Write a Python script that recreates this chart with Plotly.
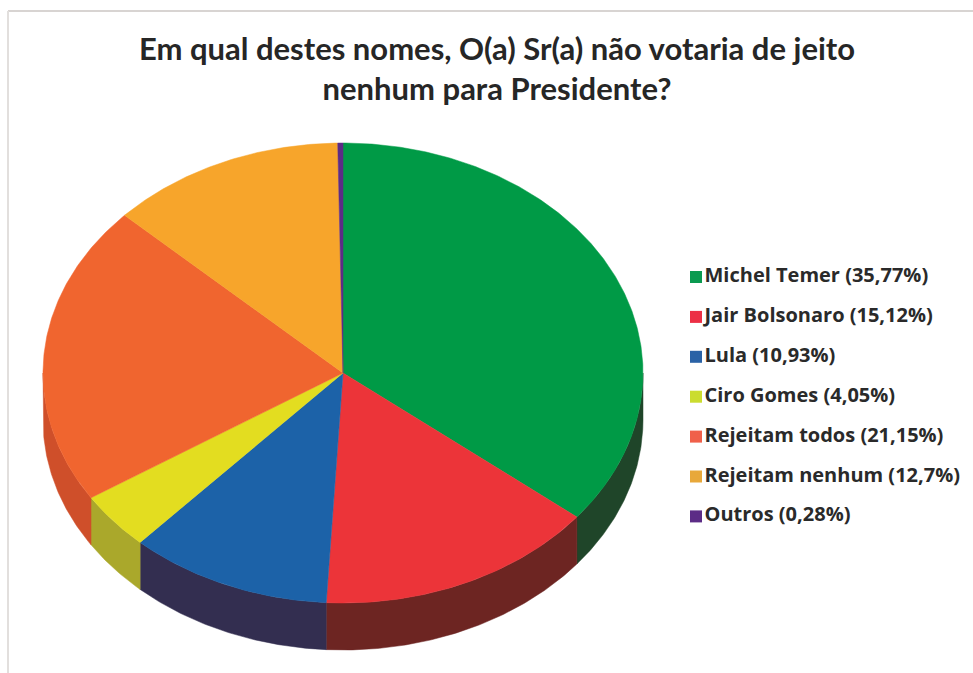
import numpy as np
import plotly.graph_objects as go

# Data
names = ["Michel Temer", "Jair Bolsonaro", "Lula", "Ciro Gomes", "Rejeitam todos", "Rejeitam nenhum", "Outros"]
values = [35.77, 15.12, 10.93, 4.05, 21.15, 12.7, 0.28]
value_labels = ["35,77%", "15,12%", "10,93%", "4,05%", "21,15%", "12,7%", "0,28%"]
top_colors = ["#009a46", "#ec3439", "#1c62a8", "#e3dd20", "#f0652f", "#f7a52b", "#5c2c86"]
side_colors = ["#1f4529", "#6d2522", "#332e50", "#aaa82b", "#cf4f2a", "#c57d22", "#44215f"]
legend_colors = ["#0a9a50", "#ec2f45", "#2a62a6", "#cbdc2f", "#f0604a", "#e8a83a", "#5c2c86"]
title_text = "Em qual destes nomes, O(a) Sr(a) não votaria de jeito<br>nenhum para Presidente?"

# Layout geometry (pixel-like scale of the canvas)
W, H = 973, 673
CX, CY, RX, RY, DEPTH = 343, 373, 300, 230, 47
LEG_X, LEG_Y0, LEG_STEP = 696, 277, 39.9


def arc(a0, a1, dy=0.0):
    t = np.radians(np.linspace(a0, a1, max(int(abs(a1 - a0) * 2), 2)))
    return CX + RX * np.sin(t), CY + dy - RY * np.cos(t)


fig = go.Figure()
edges = 360 * np.concatenate([[0], np.cumsum(values)]) / np.sum(values)

# extruded rim: only the front half of the disc is visible
for i, name in enumerate(names):
    a0, a1 = max(edges[i], 90), min(edges[i + 1], 270)
    if a1 <= a0:
        continue
    xt, yt = arc(a0, a1)
    xb, yb = arc(a1, a0, DEPTH)
    fig.add_trace(go.Scatter(
        x=np.concatenate([xt, xb, xt[:1]]), y=np.concatenate([yt, yb, yt[:1]]),
        mode="lines", fill="toself", fillcolor=side_colors[i],
        line=dict(width=0.5, color=side_colors[i]), hoverinfo="skip", showlegend=False))

# top face
for i, name in enumerate(names):
    xs, ys = arc(edges[i], edges[i + 1])
    fig.add_trace(go.Scatter(
        x=np.concatenate([[CX], xs, [CX]]), y=np.concatenate([[CY], ys, [CY]]),
        mode="lines", fill="toself", fillcolor=top_colors[i],
        line=dict(width=0.5, color=top_colors[i]), name=name,
        hovertemplate=f"{name}: {value_labels[i]}<extra></extra>", showlegend=False))

# legend
for i, name in enumerate(names):
    fig.add_trace(go.Scatter(
        x=[LEG_X], y=[LEG_Y0 + i * LEG_STEP], mode="markers+text",
        marker=dict(symbol="square", size=12, color=legend_colors[i]),
        text=[f"{name} ({value_labels[i]})"], textposition="middle right",
        textfont=dict(family="Open Sans", size=20, color="#2a2a2a", weight="bold"),
        cliponaxis=False, hoverinfo="skip", showlegend=False))

fig.update_layout(
    width=W, height=H, margin=dict(l=0, r=0, t=0, b=0),
    paper_bgcolor="white", plot_bgcolor="white", showlegend=False,
    xaxis=dict(range=[0, W], visible=False, fixedrange=True),
    yaxis=dict(range=[H, 0], visible=False, fixedrange=True),
    title=dict(text=title_text, x=497 / W, xanchor="center", y=1 - 60 / H, yanchor="top",
               font=dict(family="Lato", size=31, color="#262626", weight="bold")),
    shapes=[
        dict(type="line", xref="x", yref="y", x0=8, x1=W, y0=11, y1=11, line=dict(color="#d8d4d2", width=2)),
        dict(type="line", xref="x", yref="y", x0=8, x1=8, y0=11, y1=H, line=dict(color="#e2dfdd", width=2)),
    ],
)
fig.write_html("out.html", config={"displayModeBar": False},
               post_script="document.body.style.margin='0';document.documentElement.style.overflow='hidden';")
